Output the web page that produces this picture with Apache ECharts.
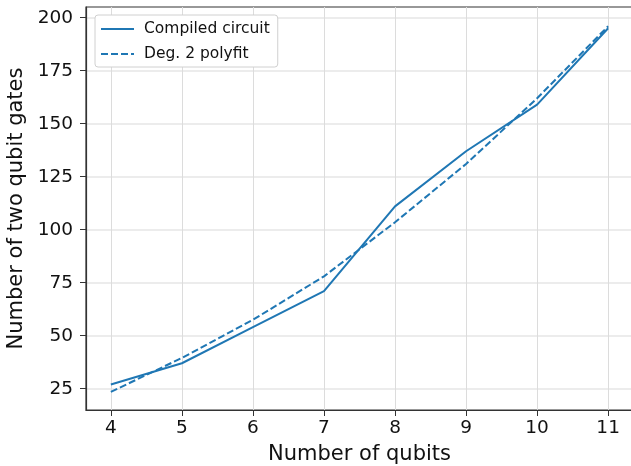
<!DOCTYPE html>
<html>
<head>
<meta charset="utf-8">
<script src="https://cdn.jsdelivr.net/npm/echarts@6/dist/echarts.min.js"></script>
<style>html,body{margin:0;padding:0;background:#fff}#c{width:631px;height:466px}</style>
</head>
<body>
<div id="c"></div>
<script>
var qubits = [4, 5, 6, 7, 8, 9, 10, 11];
var compiled = [27, 37, 54, 71, 111, 137, 159, 195];
var polyfit = [23.5, 39.5, 57.5, 78, 103.5, 131, 162, 196];
var xTicks = [4, 5, 6, 7, 8, 9, 10, 11];
var yTicks = [25, 50, 75, 100, 125, 150, 175, 200];

var FONT = 'DejaVu Sans';
var BLUE = '#1f77b4';
function pairs(xs, ys) { return xs.map(function (x, i) { return [x, ys[i]]; }); }

var chart = echarts.init(document.getElementById('c'), null, { renderer: 'canvas' });
chart.setOption({
  animation: false,
  backgroundColor: '#fff',
  grid: { left: 86, top: 7, right: -2, bottom: 56, outerBoundsMode: 'none', containLabel: false, show: true, borderColor: '#333', borderWidth: 1.2, backgroundColor: 'transparent' },
  legend: {
    left: 95, top: 15,
    orient: 'vertical',
    itemWidth: 33, itemHeight: 12, itemGap: 9,
    padding: [6, 8, 5, 5],
    backgroundColor: '#fff',
    borderColor: '#d0d0d0', borderWidth: 1, borderRadius: 3,
    itemStyle: { color: 'rgba(0,0,0,0)', borderWidth: 0, opacity: 0 },
    textStyle: { fontFamily: FONT, fontSize: 15.5, color: '#111', padding: [0, 0, 0, 5] },
    data: ['Compiled circuit', 'Deg. 2 polyfit']
  },
  xAxis: {
    type: 'value', min: 3.65, max: 11.35,
    name: 'Number of qubits', nameLocation: 'middle', nameGap: 34,
    nameTextStyle: { fontFamily: FONT, fontSize: 21, color: '#111' },
    axisLine: { show: true, lineStyle: { color: '#333', width: 1.2 } },
    axisTick: { show: true, length: 6, lineStyle: { color: '#333' }, customValues: xTicks },
    axisLabel: { fontFamily: FONT, fontSize: 18.5, color: '#111', margin: 9, customValues: xTicks },
    splitLine: { show: true, lineStyle: { color: '#dcdcdc', width: 1 } }
  },
  yAxis: {
    type: 'value', min: 14.95, max: 205.05,
    name: 'Number of two qubit gates', nameLocation: 'middle', nameGap: 55,
    nameTextStyle: { fontFamily: FONT, fontSize: 21, color: '#111' },
    axisLine: { show: true, lineStyle: { color: '#333', width: 1.2 } },
    axisTick: { show: true, length: 6, lineStyle: { color: '#333' }, customValues: yTicks },
    axisLabel: { fontFamily: FONT, fontSize: 18.5, color: '#111', margin: 13, customValues: yTicks },
    splitLine: { show: true, lineStyle: { color: '#e6e6e6', width: 1.5 } }
  },
  series: [
    {
      name: 'Compiled circuit', type: 'line', data: pairs(qubits, compiled),
      showSymbol: false, symbol: 'none',
      lineStyle: { color: BLUE, width: 2 }, itemStyle: { color: BLUE }
    },
    {
      name: 'Deg. 2 polyfit', type: 'line', data: pairs(qubits, polyfit),
      showSymbol: false, symbol: 'none',
      lineStyle: { color: BLUE, width: 2, type: [7, 3] }, itemStyle: { color: BLUE }
    }
  ]
});
</script>
</body>
</html>
